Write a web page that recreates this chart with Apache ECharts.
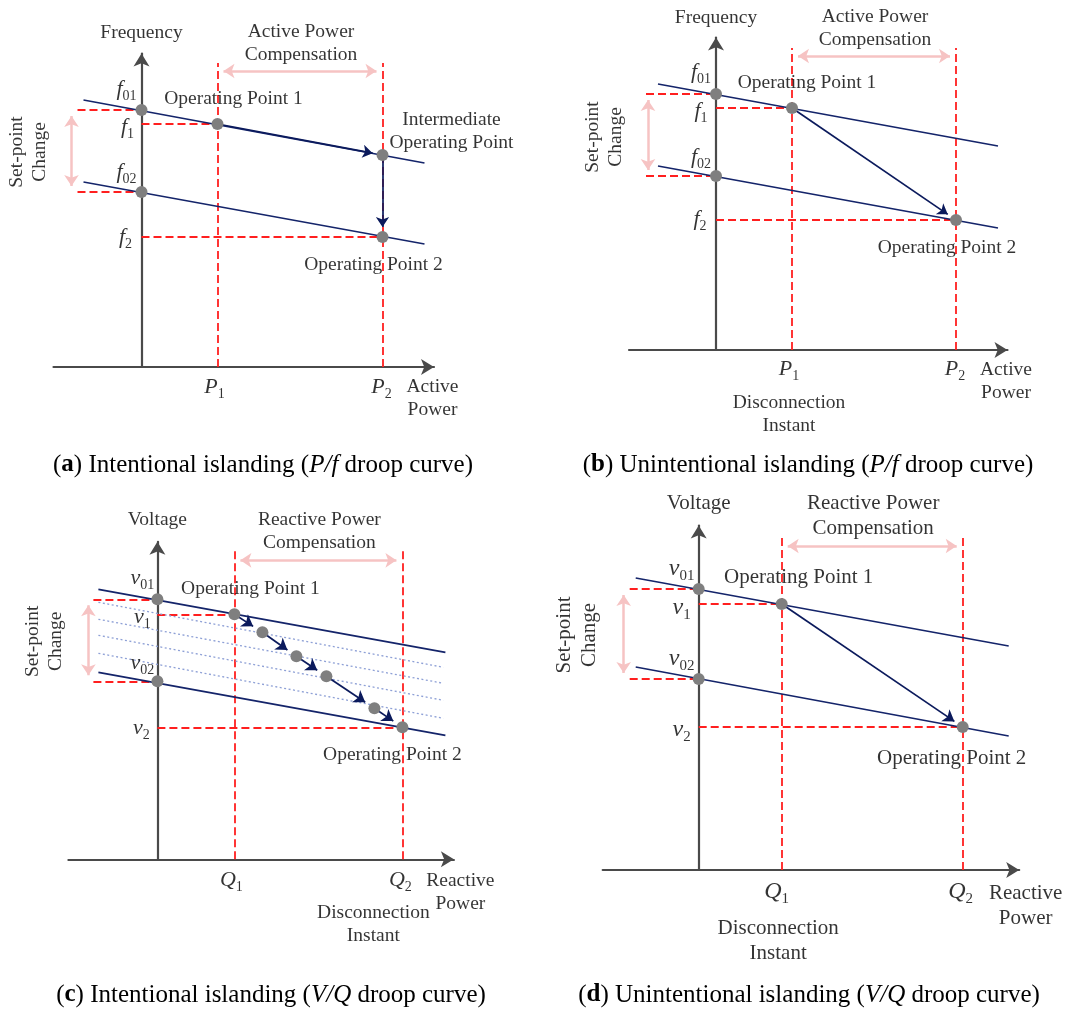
<!DOCTYPE html>
<html><head><meta charset="utf-8">
<script src="https://cdn.jsdelivr.net/npm/echarts/dist/echarts.min.js"></script>
<style>html,body{margin:0;padding:0;background:#fff}#c{width:1068px;height:1012px}</style>
</head><body><div id="c"></div>
<script>
// ===== DATA (diagram units, origin at the axes' intersection, y upward) =====
// (a) Intentional islanding, P/f droop
const aPowerTicks = [76, 241];              // P1, P2
const aFreqTicks  = [257, 243, 175, 130];   // f01, f1, f02, f2
const aDroopHigh  = [[-58, 267], [283, 204]];
const aDroopLow   = [[-58, 185], [283, 123]];
const aPoints     = [[0, 257], [76, 243], [241, 212], [0, 175], [241, 130]];
const aPath       = [[76, 243], [241, 212], [241, 130]];
// (b) Unintentional islanding, P/f droop
const bPowerTicks = [76, 240];
const bFreqTicks  = [256, 242, 174, 130];
const bDroopHigh  = [[-58, 266], [282, 204]];
const bDroopLow   = [[-58, 184], [282, 122]];
const bPoints     = [[0, 256], [76, 242], [0, 174], [240, 130]];
const bPath       = [[76, 242], [240, 130]];
// (c) Intentional islanding, V/Q droop
const cQTicks     = [77, 245];              // Q1, Q2
const cVTicks     = [260, 245, 178, 132];   // v01, v1, v02, v2
const cDroopHigh  = [[-59, 270], [288, 207]];
const cDroopLow   = [[-59, 187], [288, 124]];
const cStepLines  = [[[-59, 257], [286, 192]], [[-59, 240], [286, 176]], [[-59, 224], [286, 159]], [[-59, 206], [286, 141]]];
const cPoints     = [[0, 260], [77, 245], [105, 227], [139, 203], [169, 183], [217, 151], [245, 132], [0, 178]];
const cPath       = [[77, 245], [105, 227], [139, 203], [169, 183], [217, 151], [245, 132]];
// (d) Unintentional islanding, V/Q droop
const dQTicks     = [83, 264];
const dVTicks     = [281, 266, 191, 143];
const dDroopHigh  = [[-63, 292], [310, 224]];
const dDroopLow   = [[-63, 203], [310, 134]];
const dPoints     = [[0, 281], [83, 266], [0, 191], [264, 143]];
const dPath       = [[83, 266], [264, 143]];
// tick label names [symbol, subscript]
const powerTickNames = [['P', '1'], ['P', '2']];
const freqTickNames  = [['f', '01'], ['f', '1'], ['f', '02'], ['f', '2']];
const qTickNames     = [['Q', '1'], ['Q', '2']];
const vTickNames     = [['v', '01'], ['v', '1'], ['v', '02'], ['v', '2']];
const captionTexts = [
  ['a', 'Intentional islanding', 'P/f'],
  ['b', 'Unintentional islanding', 'P/f'],
  ['c', 'Intentional islanding', 'V/Q'],
  ['d', 'Unintentional islanding', 'V/Q']
];

// ===== STYLE / LAYOUT =====
const SERIF = "'Liberation Serif','Times New Roman',serif";
const AXIS_C = '#4a4a4a', NAVY = '#14246a', NAVY_ARROW = '#0b1a5c', RED = '#ff1f1f',
      PINK = '#f6c3c3', DOT = '#7f7f7f', DOTTED = '#8ea0d6';
const AX_LEN = 13;

const panels = [
  { D: {xTicks: aPowerTicks, yTicks: aFreqTicks, high: aDroopHigh, low: aDroopLow, steps: [], points: aPoints, path: aPath},
    N: {x: powerTickNames, y: freqTickNames, yTitle: 'Frequency', xTitle: 'Active\nPower', comp: 'Active Power\nCompensation', mid: 'Intermediate\nOperating Point', disc: null},
    L: {origin: [141.5, 367], xMin: -88, xTip: 299, yTip: 320, compTop: 304, pinkY: 296, setLeft: -64, pinkX: -70,
        font: 19.5, math: 22, sub: 14,
        yTickOff: [[-15, -21], [-14, 3], [-15, -20], [-16, 0]], xTickOff: [[-3, 20], [-1, 20]],
        op1Off: [16, -25], op2Off: [-9, 28], midOff: [69, -24], yTitleOff: [0, -14], xTitleOff: [-8, 31],
        compOff: [1, -20], setOff: [-43, 1], discTick: 0, discOff: [0, 0], arrowShort: 10, arrowSize: 10} },
  { D: {xTicks: bPowerTicks, yTicks: bFreqTicks, high: bDroopHigh, low: bDroopLow, steps: [], points: bPoints, path: bPath},
    N: {x: powerTickNames, y: freqTickNames, yTitle: 'Frequency', xTitle: 'Active\nPower', comp: 'Active Power\nCompensation', mid: null, disc: 'Disconnection\nInstant'},
    L: {origin: [716, 350], xMin: -87, xTip: 298, yTip: 319, compTop: 302, pinkY: 294, setLeft: -70, pinkX: -68,
        font: 19.5, math: 22, sub: 14,
        yTickOff: [[-15, -22], [-15, 3], [-15, -19], [-16, -1]], xTickOff: [[-3, 19], [-1, 19]],
        op1Off: [15, -25], op2Off: [-9, 28], midOff: [0, 0], yTitleOff: [0, -13], xTitleOff: [-8, 31],
        compOff: [1, -20], setOff: [-44, 2], discTick: 0, discOff: [-3, 64], arrowShort: 10, arrowSize: 10} },
  { D: {xTicks: cQTicks, yTicks: cVTicks, high: cDroopHigh, low: cDroopLow, steps: cStepLines, points: cPoints, path: cPath},
    N: {x: qTickNames, y: vTickNames, yTitle: 'Voltage', xTitle: 'Reactive\nPower', comp: 'Reactive Power\nCompensation', mid: null, disc: 'Disconnection\nInstant'},
    L: {origin: [157.4, 859.3], xMin: -89, xTip: 303, yTip: 324, compTop: 308, pinkY: 299, setLeft: -64, pinkX: -69,
        font: 19.5, math: 22, sub: 14,
        yTickOff: [[-15, -21], [-15, 3], [-15, -18], [-16, 1]], xTickOff: [[-3, 21], [-2, 21]],
        op1Off: [16, -25], op2Off: [-10, 28], midOff: [0, 0], yTitleOff: [0, -15], xTitleOff: [0, 33],
        compOff: [1, -20], setOff: [-44.5, 1], discTick: 1, discOff: [-29, 65], arrowShort: 11, arrowSize: 11} },
  { D: {xTicks: dQTicks, yTicks: dVTicks, high: dDroopHigh, low: dDroopLow, steps: [], points: dPoints, path: dPath},
    N: {x: qTickNames, y: vTickNames, yTitle: 'Voltage', xTitle: 'Reactive\nPower', comp: 'Reactive Power\nCompensation', mid: null, disc: 'Disconnection\nInstant'},
    L: {origin: [698.7, 870], xMin: -96, xTip: 327, yTip: 351, compTop: 333, pinkY: 324, setLeft: -69, pinkX: -75,
        font: 21, math: 24, sub: 15,
        yTickOff: [[-17, -20], [-17, 4], [-17, -20], [-17, 3]], xTickOff: [[-5, 22], [-2, 22]],
        op1Off: [17, -27], op2Off: [-11, 31], midOff: [0, 0], yTitleOff: [0, -16], xTitleOff: [0, 36],
        compOff: [1, -21], setOff: [-47, 1], discTick: 0, discOff: [-3.5, 70.5], arrowShort: 10, arrowSize: 11} }
];
const captionPos = [[263, 465], [808, 465], [271, 995], [809, 995]];
const CAP_SIZE = 25;

// ===== BUILD =====
function shorten(a, b, s0, s1) {
  const dx = b[0] - a[0], dy = b[1] - a[1], d = Math.hypot(dx, dy);
  const ux = dx / d, uy = dy / d;
  return [[a[0] + ux * s0, a[1] + uy * s0], [b[0] - ux * s1, b[1] - uy * s1]];
}
const grids = [], xAxes = [], yAxes = [], series = [];

panels.forEach((p, i) => {
  const D = p.D, N = p.N, L = p.L;
  const [ox, oy] = L.origin;
  const xMax = L.xTip - AX_LEN / 2, yMax = L.yTip - AX_LEN / 2;
  grids.push({left: ox + L.xMin, top: oy - yMax, width: xMax - L.xMin, height: yMax, containLabel: false});
  const axisCommon = {type: 'value', gridIndex: i, axisTick: {show: false}, axisLabel: {show: false}, splitLine: {show: false},
    axisLine: {show: true, onZero: true, symbol: ['none', 'arrow'], symbolSize: [12, AX_LEN], lineStyle: {color: AXIS_C, width: 2.2}}};
  xAxes.push(Object.assign({}, axisCommon, {min: L.xMin, max: xMax}));
  yAxes.push(Object.assign({}, axisCommon, {min: 0, max: yMax}));
  const base = {coordinateSystem: 'cartesian2d', xAxisIndex: i, yAxisIndex: i, silent: true, animation: false};
  const [x1, x2] = D.xTicks, [y01, y1, y02, y2] = D.yTicks;
  const seg = arr => arr.map(c => ({coords: c}));

  // red dashed guide lines
  series.push(Object.assign({}, base, {type: 'lines', z: 2,
    lineStyle: {color: RED, width: 1.8, type: [8, 4], opacity: 1, curveness: 0},
    data: seg([[[x1, 0], [x1, L.compTop]], [[x2, 0], [x2, L.compTop]],
               [[0, y1], [x1, y1]], [[0, y2], [x2, y2]],
               [[L.setLeft, y01], [0, y01]], [[L.setLeft, y02], [0, y02]]])}));
  // pale double arrows
  series.push(Object.assign({}, base, {type: 'lines', z: 3, symbol: ['arrow', 'arrow'], symbolSize: 11,
    lineStyle: {color: PINK, width: 2.5, opacity: 1, curveness: 0},
    data: seg([shorten([x1, L.pinkY], [x2, L.pinkY], 6, 6), shorten([L.pinkX, y01], [L.pinkX, y02], 6, 6)])}));
  // dotted intermediate droop lines
  if (D.steps.length) {
    series.push(Object.assign({}, base, {type: 'lines', z: 3,
      lineStyle: {color: DOTTED, width: 1.3, type: [2, 2.5], opacity: 1, curveness: 0}, data: seg(D.steps)}));
  }
  // droop lines
  series.push(Object.assign({}, base, {type: 'lines', z: 4,
    lineStyle: {color: NAVY, width: 1.7, opacity: 1, curveness: 0}, data: seg([D.high, D.low])}));
  // transition arrows
  const arrows = [];
  for (let k = 0; k + 1 < D.path.length; k++) arrows.push(shorten(D.path[k], D.path[k + 1], 0, L.arrowShort));
  series.push(Object.assign({}, base, {type: 'lines', z: 5, symbol: ['none', 'arrow'], symbolSize: L.arrowSize,
    lineStyle: {color: NAVY_ARROW, width: 1.7, opacity: 1, curveness: 0}, data: seg(arrows)}));
  // operating points
  series.push(Object.assign({}, base, {type: 'scatter', z: 10, symbolSize: 12, itemStyle: {color: DOT, opacity: 1}, data: D.points}));

  // text labels
  const txt = {color: '#000', fontFamily: SERIF, fontSize: L.font, lineHeight: Math.round(L.font * 1.2)};
  const mathRich = {
    m: {fontFamily: SERIF, fontStyle: 'italic', fontSize: L.math, lineHeight: L.math + 6, color: '#000'},
    s: {fontFamily: SERIF, fontSize: L.sub, lineHeight: L.sub, verticalAlign: 'bottom', color: '#000'}
  };
  const lab = (at, off, text, extra) => ({value: at, label: Object.assign({show: true, position: 'inside', offset: off,
    formatter: text, align: 'center', verticalAlign: 'middle'}, txt, extra || {})});
  const items = [];
  D.yTicks.forEach((v, k) => items.push(lab([0, v], L.yTickOff[k], '{m|' + N.y[k][0] + '}{s|' + N.y[k][1] + '}', {rich: mathRich})));
  D.xTicks.forEach((v, k) => items.push(lab([v, 0], L.xTickOff[k], '{m|' + N.x[k][0] + '}{s|' + N.x[k][1] + '}', {rich: mathRich})));
  items.push(lab([0, yMax], [L.yTitleOff[0], L.yTitleOff[1] - AX_LEN / 2], N.yTitle));
  items.push(lab([xMax, 0], [L.xTitleOff[0] + AX_LEN / 2, L.xTitleOff[1]], N.xTitle));
  items.push(lab([(x1 + x2) / 2, L.compTop], L.compOff, N.comp));
  items.push(lab(D.path[0], L.op1Off, 'Operating Point 1'));
  items.push(lab(D.path[D.path.length - 1], L.op2Off, 'Operating Point 2'));
  if (N.mid) items.push(lab(D.path[1], L.midOff, N.mid));
  if (N.disc) items.push(lab([D.xTicks[L.discTick], 0], L.discOff, N.disc));
  // rotated label: offset is expressed in the label's rotated frame
  items.push(lab([L.pinkX, (y01 + y02) / 2], [-L.setOff[1], L.setOff[0]], 'Set-point\nChange', {rotate: 90}));
  series.push(Object.assign({}, base, {type: 'scatter', z: 20, symbolSize: 1,
    itemStyle: {color: 'rgba(0,0,0,0)'}, data: items}));
});

const capRich = {
  n: {fontFamily: SERIF, fontSize: CAP_SIZE, fill: '#000', color: '#000'},
  bd: {fontFamily: SERIF, fontSize: CAP_SIZE, fontWeight: 'bold', fill: '#000', color: '#000'},
  it: {fontFamily: SERIF, fontSize: CAP_SIZE, fontStyle: 'italic', fill: '#000', color: '#000'}
};
const graphic = captionTexts.map((c, k) => ({
  type: 'text', x: captionPos[k][0], y: captionPos[k][1], silent: true,
  style: {text: '{n|(}{bd|' + c[0] + '}{n|) ' + c[1] + ' (}{it|' + c[2] + '}{n| droop curve)}',
          rich: capRich, align: 'center', verticalAlign: 'middle', fontFamily: SERIF, fontSize: CAP_SIZE, fill: '#000'}
}));

const chart = echarts.init(document.getElementById('c'), null, {renderer: 'canvas'});
chart.setOption({
  animation: false, backgroundColor: '#fff',
  grid: grids, xAxis: xAxes, yAxis: yAxes, series: series, graphic: graphic
});
</script></body></html>
